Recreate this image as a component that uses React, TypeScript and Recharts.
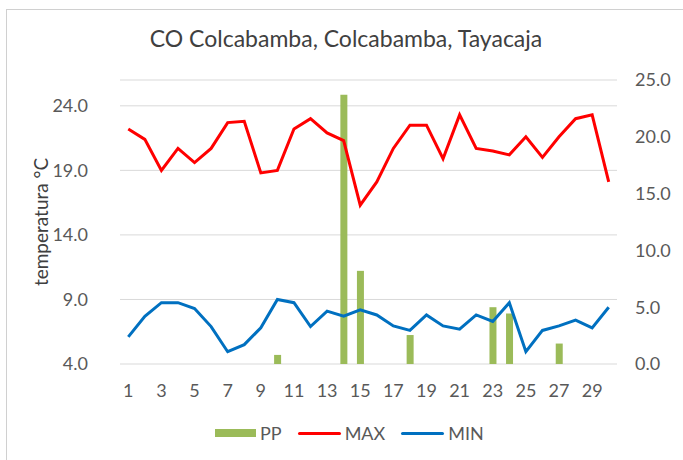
import {
    Bar,
    CartesianGrid,
    ComposedChart,
    Line,
    XAxis,
    YAxis,
} from "recharts";

const days = [
    "1", "2", "3", "4", "5", "6", "7", "8", "9", "10",
    "11", "12", "13", "14", "15", "16", "17", "18", "19", "20",
    "21", "22", "23", "24", "25", "26", "27", "28", "29", "30",
];

const maxTemp = [
    22.2, 21.4, 19.0, 20.7, 19.6, 20.7, 22.7, 22.8, 18.8, 19.0,
    22.2, 23.0, 21.9, 21.3, 16.3, 18.1, 20.7, 22.5, 22.5, 19.9,
    23.3, 20.7, 20.5, 20.2, 21.6, 20.0, 21.6, 23.0, 23.3, 18.1,
];

const minTemp = [
    6.1, 7.7, 8.75, 8.75, 8.3, 6.9, 4.95, 5.5, 6.8, 9.0,
    8.75, 6.9, 8.1, 7.7, 8.2, 7.8, 6.95, 6.6, 7.8, 6.95,
    6.7, 7.8, 7.3, 8.75, 4.95, 6.6, 6.95, 7.4, 6.8, 8.4,
];

const precip = [
    0, 0, 0, 0, 0, 0, 0, 0, 0, 0.8,
    0, 0, 0, 23.7, 8.2, 0, 0, 2.55, 0, 0,
    0, 0, 5.0, 4.45, 0, 0, 1.8, 0, 0, 0,
];

const tempTicks = [4, 9, 14, 19, 24];
const ppTicks = [0, 5, 10, 15, 20, 25];

const FONT = "Lato, 'Open Sans', sans-serif";
const TEXT = "#595959";

const chartData = days.map((day, i) => ({
    day,
    max: maxTemp[i],
    min: minTemp[i],
    pp: precip[i],
}));

function LegendItem({ color, label, bar }: { color: string; label: string; bar?: boolean }) {
    return (
        <div style={{ display: "flex", alignItems: "center", marginRight: 16 }}>
            <span
                style={{
                    display: "inline-block",
                    width: bar ? 41 : 43,
                    height: bar ? 8 : 3,
                    backgroundColor: color,
                    borderRadius: bar ? 0 : 2,
                    marginRight: 4,
                }}
            />
            <span>{label}</span>
        </div>
    );
}

export default function App() {
    return (
        <div
            style={{
                position: "absolute",
                left: 0,
                top: 0,
                width: 683,
                height: 460,
                background: "#fff",
                fontFamily: FONT,
                overflow: "hidden",
            }}
        >
            <div
                style={{
                    position: "absolute",
                    left: 6,
                    top: 9,
                    width: 700,
                    height: 480,
                    border: "1px solid #d0d0d0",
                    boxSizing: "border-box",
                }}
            />
            <div
                style={{
                    position: "absolute",
                    left: 0,
                    top: 24,
                    width: 692,
                    textAlign: "center",
                    fontSize: 23,
                    color: "#404040",
                }}
            >
                CO Colcabamba, Colcabamba, Tayacaja
            </div>

            <ComposedChart
                width={683}
                height={460}
                data={chartData}
                margin={{ top: 80, right: 0, bottom: 66, left: 0 }}
                style={{ position: "absolute", left: 0, top: 0 }}
            >
                <CartesianGrid
                    yAxisId="temp"
                    vertical={false}
                    stroke="#d9d9d9"
                    strokeWidth={1}
                />
                <XAxis
                    dataKey="day"
                    interval={1}
                    axisLine={false}
                    tickLine={false}
                    tickMargin={14}
                    height={30}
                    tick={{ fontSize: 18, fill: TEXT, fontFamily: FONT }}
                />
                <YAxis
                    yAxisId="temp"
                    orientation="left"
                    width={120}
                    domain={[4, 26]}
                    ticks={tempTicks}
                    allowDataOverflow
                    axisLine={false}
                    tickLine={false}
                    tickMargin={26}
                    tickFormatter={(v) => Number(v).toFixed(1)}
                    tick={{ fontSize: 18, fill: TEXT, fontFamily: FONT }}
                    label={{
                        value: "temperatura °C",
                        angle: -90,
                        position: "insideLeft",
                        offset: 41,
                        style: { fontSize: 19, fill: "#404040", fontFamily: FONT, textAnchor: "middle" },
                    }}
                />
                <YAxis
                    yAxisId="pp"
                    orientation="right"
                    width={66}
                    domain={[0, 25]}
                    ticks={ppTicks}
                    axisLine={false}
                    tickLine={false}
                    tickMargin={12}
                    tickFormatter={(v) => Number(v).toFixed(1)}
                    tick={{ fontSize: 18, fill: TEXT, fontFamily: FONT, textAnchor: "start" }}
                />
                <Bar
                    yAxisId="pp"
                    dataKey="pp"
                    name="PP"
                    fill="#9bbb59"
                    barSize={7}
                    isAnimationActive={false}
                />
                <Line
                    yAxisId="temp"
                    dataKey="max"
                    name="MAX"
                    stroke="#ff0000"
                    strokeWidth={3}
                    dot={false}
                    type="linear"
                    isAnimationActive={false}
                />
                <Line
                    yAxisId="temp"
                    dataKey="min"
                    name="MIN"
                    stroke="#0070c0"
                    strokeWidth={3}
                    dot={false}
                    type="linear"
                    isAnimationActive={false}
                />
            </ComposedChart>

            <div
                style={{
                    position: "absolute",
                    left: 215,
                    top: 423,
                    display: "flex",
                    fontSize: 18,
                    color: TEXT,
                    lineHeight: "20px",
                }}
            >
                <LegendItem color="#9bbb59" label="PP" bar />
                <LegendItem color="#ff0000" label="MAX" />
                <LegendItem color="#0070c0" label="MIN" />
            </div>
        </div>
    );
}
